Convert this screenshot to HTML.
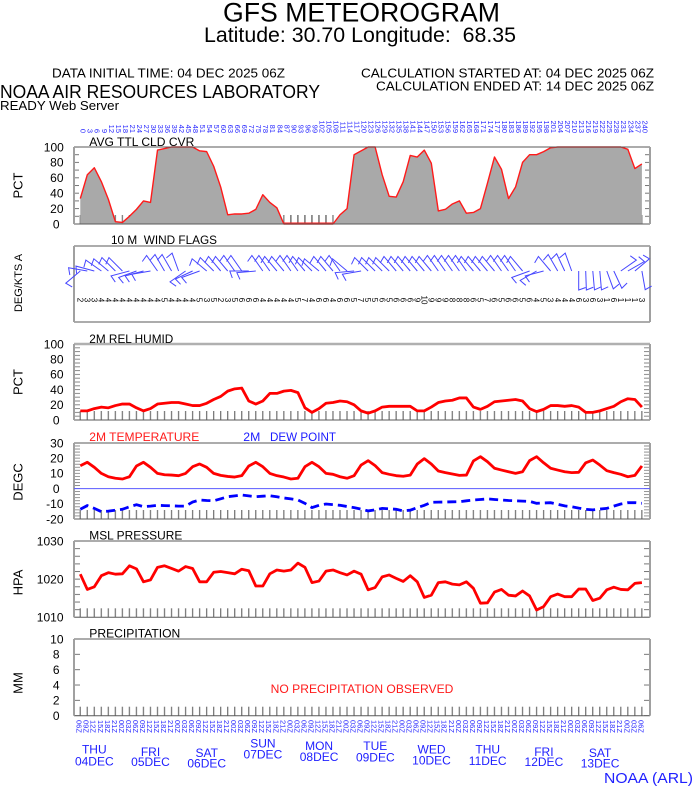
<!DOCTYPE html>
<html><head><meta charset="utf-8"><style>
html,body{margin:0;padding:0;background:#fff;}
svg{display:block;}
text{font-family:"Liberation Sans",Arial,sans-serif;}
</style></head><body>
<svg width="694" height="788" viewBox="0 0 694 788" xmlns="http://www.w3.org/2000/svg">
<defs>
<pattern id="bt" patternUnits="userSpaceOnUse" x="79.6" y="0" width="7.02" height="800"><rect x="0" y="0" width="1.3" height="800" fill="#7a7a7a"/></pattern>
<pattern id="pc" patternUnits="userSpaceOnUse" x="0" y="146.5" width="700" height="7.7"><rect width="700" height="1" fill="#777"/></pattern>
<pattern id="pr" patternUnits="userSpaceOnUse" x="0" y="343.5" width="700" height="3.8"><rect width="700" height="1" fill="#888"/></pattern>
<pattern id="pt" patternUnits="userSpaceOnUse" x="0" y="442.5" width="700" height="3.04"><rect width="700" height="0.9" fill="#888"/></pattern>
<pattern id="pp" patternUnits="userSpaceOnUse" x="0" y="540.5" width="700" height="7.63"><rect width="700" height="1" fill="#777"/></pattern>
<pattern id="pq" patternUnits="userSpaceOnUse" x="0" y="638.5" width="700" height="15.34"><rect width="700" height="1" fill="#777"/></pattern>
<path id="wb" d="M0,0V-19L-7,-16.5" fill="none" stroke="#4646ff" stroke-width="1"/>
</defs>

<!-- Header -->
<text x="223" y="21.5" font-size="27" textLength="277" lengthAdjust="spacingAndGlyphs">GFS METEOROGRAM</text>
<text x="204" y="42" font-size="21" textLength="312" lengthAdjust="spacingAndGlyphs" xml:space="preserve">Latitude: 30.70 Longitude:  68.35</text>
<text x="52" y="77.5" font-size="12.5" textLength="233" lengthAdjust="spacingAndGlyphs">DATA INITIAL TIME: 04 DEC 2025 06Z</text>
<text x="361" y="77.5" font-size="12.5" textLength="293" lengthAdjust="spacingAndGlyphs">CALCULATION STARTED AT: 04 DEC 2025 06Z</text>
<text x="376" y="90.5" font-size="12.5" textLength="278" lengthAdjust="spacingAndGlyphs">CALCULATION ENDED AT: 14 DEC 2025 06Z</text>
<text x="0" y="98" font-size="18" textLength="320" lengthAdjust="spacingAndGlyphs">NOAA AIR RESOURCES LABORATORY</text>
<text x="0" y="110" font-size="12.5" textLength="119" lengthAdjust="spacingAndGlyphs">READY Web Server</text>

<!-- Top hour labels -->
<g transform="rotate(90)" font-size="7.5" fill="#2828ff" text-anchor="end">
<text x="133" y="-80.7">0</text><text x="133" y="-87.7">3</text><text x="133" y="-94.7">6</text><text x="133" y="-101.8">9</text>
<text x="133" y="-108.8">12</text><text x="133" y="-115.8">15</text><text x="133" y="-122.8">18</text><text x="133" y="-129.8">21</text>
<text x="133" y="-136.9">24</text><text x="133" y="-143.9">27</text><text x="133" y="-150.9">30</text><text x="133" y="-157.9">33</text>
<text x="133" y="-164.9">36</text><text x="133" y="-172">39</text><text x="133" y="-179">42</text><text x="133" y="-186">45</text>
<text x="133" y="-193">48</text><text x="133" y="-200">51</text><text x="133" y="-207.1">54</text><text x="133" y="-214.1">57</text>
<text x="133" y="-221.1">60</text><text x="133" y="-228.1">63</text><text x="133" y="-235.1">66</text><text x="133" y="-242.2">69</text>
<text x="133" y="-249.2">72</text><text x="133" y="-256.2">75</text><text x="133" y="-263.2">78</text><text x="133" y="-270.2">81</text>
<text x="133" y="-277.3">84</text><text x="133" y="-284.3">87</text><text x="133" y="-291.3">90</text><text x="133" y="-298.3">93</text>
<text x="133" y="-305.3">96</text><text x="133" y="-312.4">99</text><text x="133" y="-319.4">102</text><text x="133" y="-326.4">105</text>
<text x="133" y="-333.4">108</text><text x="133" y="-340.4">111</text><text x="133" y="-347.5">114</text><text x="133" y="-354.5">117</text>
<text x="133" y="-361.5">120</text><text x="133" y="-368.5">123</text><text x="133" y="-375.5">126</text><text x="133" y="-382.6">129</text>
<text x="133" y="-389.6">132</text><text x="133" y="-396.6">135</text><text x="133" y="-403.6">138</text><text x="133" y="-410.6">141</text>
<text x="133" y="-417.7">144</text><text x="133" y="-424.7">147</text><text x="133" y="-431.7">150</text><text x="133" y="-438.7">153</text>
<text x="133" y="-445.7">156</text><text x="133" y="-452.8">159</text><text x="133" y="-459.8">162</text><text x="133" y="-466.8">165</text>
<text x="133" y="-473.8">168</text><text x="133" y="-480.8">171</text><text x="133" y="-487.9">174</text><text x="133" y="-494.9">177</text>
<text x="133" y="-501.9">180</text><text x="133" y="-508.9">183</text><text x="133" y="-515.9">186</text><text x="133" y="-523">189</text>
<text x="133" y="-530">192</text><text x="133" y="-537">195</text><text x="133" y="-544">198</text><text x="133" y="-551">201</text>
<text x="133" y="-558.1">204</text><text x="133" y="-565.1">207</text><text x="133" y="-572.1">210</text><text x="133" y="-579.1">213</text>
<text x="133" y="-586.1">216</text><text x="133" y="-593.2">219</text><text x="133" y="-600.2">222</text><text x="133" y="-607.2">225</text>
<text x="133" y="-614.2">228</text><text x="133" y="-621.2">231</text><text x="133" y="-628.3">234</text><text x="133" y="-635.3">237</text>
<text x="133" y="-642.3">240</text>
</g>

<!-- Axis titles -->
<g font-size="13" text-anchor="middle">
<text transform="translate(22.7,185.5) rotate(-90)">PCT</text>
<text transform="translate(22,283) rotate(-90)" font-size="11">DEG/KTS A</text>
<text transform="translate(22.7,382) rotate(-90)">PCT</text>
<text transform="translate(22.7,482) rotate(-90)">DEGC</text>
<text transform="translate(22.7,582.5) rotate(-90)">HPA</text>
<text transform="translate(22.7,683) rotate(-90)">MM</text>
</g>

<!-- Tick labels -->
<g font-size="12" text-anchor="end">
<text x="63.8" y="151.3">100</text><text x="63.5" y="166.7">80</text><text x="63.5" y="182.1">60</text><text x="63.5" y="197.5">40</text><text x="63.5" y="212.9">20</text><text x="59.5" y="228.3">0</text>
<text x="63.8" y="348.3">100</text><text x="63.5" y="363.5">80</text><text x="63.5" y="378.7">60</text><text x="63.5" y="393.9">40</text><text x="63.5" y="409.1">20</text><text x="59.5" y="424.3">0</text>
<text x="63.5" y="447.3">30</text><text x="63.5" y="462.5">20</text><text x="63.5" y="477.7">10</text><text x="59.5" y="492.9">0</text><text x="63.5" y="508.1">-10</text><text x="63.5" y="523.3">-20</text>
<text x="63.5" y="545.3">1030</text><text x="63.5" y="583.5">1020</text><text x="63.5" y="621.6">1010</text>
<text x="63.5" y="643.3">10</text><text x="59.5" y="658.6">8</text><text x="59.5" y="674">6</text><text x="59.5" y="689.3">4</text><text x="59.5" y="704.7">2</text><text x="59.5" y="720">0</text>
</g>

<!-- Bottom ticks (drawn under fills) -->
<rect x="76" y="215" width="572" height="9" fill="url(#bt)"/>
<rect x="76" y="411" width="572" height="9" fill="url(#bt)"/>
<rect x="76" y="510" width="572" height="9" fill="url(#bt)"/>
<rect x="76" y="608.3" width="572" height="9" fill="url(#bt)"/>
<rect x="76" y="706.7" width="572" height="9" fill="url(#bt)"/>

<!-- Cloud cover -->
<polygon transform="translate(80.3,224) scale(7.02,-0.77)" fill="#a9a9a9" points="0,0 0,33 1,64 2,73 3,55 4,32 5,3 6,2 7,10 8,19 9,30 10,28 11,96 12,98 13,100 14,100 15,100 16,100 17,95 18,94 19,75 20,48 21,12 22,13 23,13 24,14 25,19 26,38 27,28 28,21 29,0 30,0 31,0 32,0 33,0 34,0 35,0 36,0 37,12 38,20 39,90 40,95 41,100 42,100 43,64 44,36 45,35 46,55 47,89 48,87 49,96 50,79 51,17 52,19 53,26 54,30 55,14 56,15 57,20 58,53 59,87 60,71 61,33 62,48 63,80 64,90 65,90 66,94 67,99 68,100 69,100 70,100 71,100 72,100 73,100 74,100 75,100 76,100 77,100 78,97 79,72 80,78 80,0"/>
<rect x="289" y="215" width="40" height="9" fill="url(#bt)"/>
<polyline transform="translate(80.3,224) scale(7.02,-0.77)" vector-effect="non-scaling-stroke" fill="none" stroke="#ff1a1a" stroke-width="1.4" stroke-linejoin="round" points="0,33 1,64 2,73 3,55 4,32 5,3 6,2 7,10 8,19 9,30 10,28 11,96 12,98 13,100 14,100 15,100 16,100 17,95 18,94 19,75 20,48 21,12 22,13 23,13 24,14 25,19 26,38 27,28 28,21 29,0 30,0 31,0 32,0 33,0 34,0 35,0 36,0 37,12 38,20 39,90 40,95 41,100 42,100 43,64 44,36 45,35 46,55 47,89 48,87 49,96 50,79 51,17 52,19 53,26 54,30 55,14 56,15 57,20 58,53 59,87 60,71 61,33 62,48 63,80 64,90 65,90 66,94 67,99 68,100 69,100 70,100 71,100 72,100 73,100 74,100 75,100 76,100 77,100 78,97 79,72 80,78"/>
<line x1="284" y1="223.5" x2="333" y2="223.5" stroke="#ff1a1a" stroke-width="2"/>

<!-- Side tick marks -->
<rect x="74" y="147" width="5" height="77" fill="url(#pc)"/><rect x="645" y="147" width="5" height="77" fill="url(#pc)"/>
<rect x="74" y="344" width="6" height="76" fill="url(#pr)"/><rect x="644" y="344" width="6" height="76" fill="url(#pr)"/>
<rect x="74" y="443" width="6" height="76" fill="url(#pt)"/><rect x="644" y="443" width="6" height="76" fill="url(#pt)"/>
<rect x="74" y="541" width="6" height="76.3" fill="url(#pp)"/><rect x="644" y="541" width="6" height="76.3" fill="url(#pp)"/>
<rect x="74" y="639" width="6" height="76.7" fill="url(#pq)"/><rect x="644" y="639" width="6" height="76.7" fill="url(#pq)"/>

<!-- Frames -->
<g fill="none">
<g stroke="#5a5a5a" stroke-width="1">
<line x1="74" y1="147" x2="650" y2="147"/><line x1="74" y1="224" x2="650" y2="224"/>
<line x1="74" y1="246" x2="650" y2="246"/><line x1="74" y1="322" x2="650" y2="322"/>
<line x1="74" y1="420" x2="650" y2="420"/>
<line x1="74" y1="443" x2="650" y2="443"/><line x1="74" y1="519" x2="650" y2="519"/>
<line x1="74" y1="541" x2="650" y2="541"/><line x1="74" y1="617.3" x2="650" y2="617.3"/>
<line x1="74" y1="639" x2="650" y2="639"/><line x1="74" y1="715.7" x2="650" y2="715.7"/>
</g>
<line x1="74" y1="344" x2="650" y2="344" stroke="#b0b0b0" stroke-width="2.5"/>
<g stroke="#a0a0a0" stroke-width="2">
<line x1="74" y1="147" x2="74" y2="224"/><line x1="650" y1="147" x2="650" y2="224"/>
<line x1="74" y1="246" x2="74" y2="322"/><line x1="650" y1="246" x2="650" y2="322"/>
<line x1="74" y1="344" x2="74" y2="420"/><line x1="650" y1="344" x2="650" y2="420"/>
<line x1="74" y1="443" x2="74" y2="519"/><line x1="650" y1="443" x2="650" y2="519"/>
<line x1="74" y1="541" x2="74" y2="617.3"/><line x1="650" y1="541" x2="650" y2="617.3"/>
<line x1="74" y1="639" x2="74" y2="715.7"/><line x1="650" y1="639" x2="650" y2="715.7"/>
</g>
</g>

<!-- Panel titles -->
<g font-size="12">
<text x="89.3" y="146" textLength="105" lengthAdjust="spacingAndGlyphs">AVG TTL CLD CVR</text>
<text x="111" y="244" textLength="106" lengthAdjust="spacingAndGlyphs" xml:space="preserve">10 M  WIND FLAGS</text>
<text x="89.3" y="343" textLength="84" lengthAdjust="spacingAndGlyphs">2M REL HUMID</text>
<text x="89.3" y="441" fill="#ff1a1a" textLength="110" lengthAdjust="spacingAndGlyphs">2M TEMPERATURE</text>
<text x="243.3" y="441" fill="#1a1aff" textLength="17" lengthAdjust="spacingAndGlyphs">2M</text>
<text x="270" y="441" fill="#1a1aff" textLength="66" lengthAdjust="spacingAndGlyphs">DEW POINT</text>
<text x="89.3" y="539.3" textLength="93" lengthAdjust="spacingAndGlyphs">MSL PRESSURE</text>
<text x="89.3" y="637.7" textLength="91" lengthAdjust="spacingAndGlyphs">PRECIPITATION</text>
<text x="270.7" y="693" fill="#ff1a1a" textLength="182.7" lengthAdjust="spacingAndGlyphs">NO PRECIPITATION OBSERVED</text>
</g>

<!-- Wind barbs -->
<g>
<use href="#wb" transform="translate(80.3,271) rotate(-130)"/><use href="#wb" transform="translate(87.3,271) rotate(-80)"/><use href="#wb" transform="translate(94.3,271) rotate(-75)"/><use href="#wb" transform="translate(101.4,271) rotate(-55)"/>
<use href="#wb" transform="translate(108.4,271) rotate(-50)"/><use href="#wb" transform="translate(115.4,271) rotate(-45)"/><use href="#wb" transform="translate(122.4,271) rotate(-45)"/><use href="#wb" transform="translate(129.4,271) rotate(-105)"/>
<use href="#wb" transform="translate(136.5,271) rotate(-110)"/><use href="#wb" transform="translate(143.5,271) rotate(-105)"/><use href="#wb" transform="translate(150.5,271) rotate(-100)"/><use href="#wb" transform="translate(157.5,271) rotate(-35)"/>
<use href="#wb" transform="translate(164.5,271) rotate(-30)"/><use href="#wb" transform="translate(171.6,271) rotate(-30)"/><use href="#wb" transform="translate(178.6,271) rotate(-20)"/><use href="#wb" transform="translate(185.6,271) rotate(-125)"/>
<use href="#wb" transform="translate(192.6,271) rotate(-115)"/><use href="#wb" transform="translate(199.6,271) rotate(-110)"/><use href="#wb" transform="translate(206.7,271) rotate(-50)"/><use href="#wb" transform="translate(213.7,271) rotate(-45)"/>
<use href="#wb" transform="translate(220.7,271) rotate(-40)"/><use href="#wb" transform="translate(227.7,271) rotate(-40)"/><use href="#wb" transform="translate(234.7,271) rotate(-35)"/><use href="#wb" transform="translate(241.8,271) rotate(-35)"/>
<use href="#wb" transform="translate(248.8,271) rotate(-90)"/><use href="#wb" transform="translate(255.8,271) rotate(-95)"/><use href="#wb" transform="translate(262.8,271) rotate(-35)"/><use href="#wb" transform="translate(269.8,271) rotate(-35)"/>
<use href="#wb" transform="translate(276.9,271) rotate(-40)"/><use href="#wb" transform="translate(283.9,271) rotate(-40)"/><use href="#wb" transform="translate(290.9,271) rotate(-35)"/><use href="#wb" transform="translate(297.9,271) rotate(-35)"/>
<use href="#wb" transform="translate(304.9,271) rotate(-40)"/><use href="#wb" transform="translate(312,271) rotate(-45)"/><use href="#wb" transform="translate(319,271) rotate(-50)"/><use href="#wb" transform="translate(326,271) rotate(-40)"/>
<use href="#wb" transform="translate(333,271) rotate(-40)"/><use href="#wb" transform="translate(340,271) rotate(-35)"/><use href="#wb" transform="translate(347.1,271) rotate(-50)"/><use href="#wb" transform="translate(354.1,271) rotate(-95)"/>
<use href="#wb" transform="translate(361.1,271) rotate(-100)"/><use href="#wb" transform="translate(368.1,271) rotate(-45)"/><use href="#wb" transform="translate(375.1,271) rotate(-45)"/><use href="#wb" transform="translate(382.2,271) rotate(-45)"/>
<use href="#wb" transform="translate(389.2,271) rotate(-45)"/><use href="#wb" transform="translate(396.2,271) rotate(-40)"/><use href="#wb" transform="translate(403.2,271) rotate(-40)"/><use href="#wb" transform="translate(410.2,271) rotate(-40)"/>
<use href="#wb" transform="translate(417.3,271) rotate(-40)"/><use href="#wb" transform="translate(424.3,271) rotate(-40)"/><use href="#wb" transform="translate(431.3,271) rotate(-40)"/><use href="#wb" transform="translate(438.3,271) rotate(-35)"/>
<use href="#wb" transform="translate(445.3,271) rotate(-35)"/><use href="#wb" transform="translate(452.4,271) rotate(-35)"/><use href="#wb" transform="translate(459.4,271) rotate(-35)"/><use href="#wb" transform="translate(466.4,271) rotate(-35)"/>
<use href="#wb" transform="translate(473.4,271) rotate(-40)"/><use href="#wb" transform="translate(480.4,271) rotate(-40)"/><use href="#wb" transform="translate(487.5,271) rotate(-40)"/><use href="#wb" transform="translate(494.5,271) rotate(-40)"/>
<use href="#wb" transform="translate(501.5,271) rotate(-35)"/><use href="#wb" transform="translate(508.5,271) rotate(-35)"/><use href="#wb" transform="translate(515.5,271) rotate(-35)"/><use href="#wb" transform="translate(522.6,271) rotate(-40)"/>
<use href="#wb" transform="translate(529.6,271) rotate(-110)"/><use href="#wb" transform="translate(536.6,271) rotate(-120)"/><use href="#wb" transform="translate(543.6,271) rotate(-105)"/><use href="#wb" transform="translate(550.6,271) rotate(-40)"/>
<use href="#wb" transform="translate(557.7,271) rotate(-30)"/><use href="#wb" transform="translate(564.7,271) rotate(-25)"/><use href="#wb" transform="translate(571.7,271) rotate(-20)"/><use href="#wb" transform="translate(578.7,271) rotate(180)"/>
<use href="#wb" transform="translate(585.7,271) rotate(178)"/><use href="#wb" transform="translate(592.8,271) rotate(175)"/><use href="#wb" transform="translate(599.8,271) rotate(175)"/><use href="#wb" transform="translate(606.8,271) rotate(160)"/>
<use href="#wb" transform="translate(613.8,271) rotate(155)"/><use href="#wb" transform="translate(620.8,271) rotate(55)"/><use href="#wb" transform="translate(627.9,271) rotate(60)"/><use href="#wb" transform="translate(634.9,271) rotate(50)"/>
<use href="#wb" transform="translate(641.9,271) rotate(170)"/>
</g>

<!-- Wind speed numbers -->
<g transform="translate(-3.3,0) rotate(90)" font-size="8" text-anchor="middle" fill="#000">
<text x="300" y="-80.7">2</text><text x="300" y="-87.7">3</text><text x="300" y="-94.7">3</text><text x="300" y="-101.8">4</text>
<text x="300" y="-108.8">4</text><text x="300" y="-115.8">4</text><text x="300" y="-122.8">4</text><text x="300" y="-129.8">4</text>
<text x="300" y="-136.9">4</text><text x="300" y="-143.9">4</text><text x="300" y="-150.9">4</text><text x="300" y="-157.9">4</text>
<text x="300" y="-164.9">5</text><text x="300" y="-172">4</text><text x="300" y="-179">4</text><text x="300" y="-186">4</text>
<text x="300" y="-193">4</text><text x="300" y="-200">5</text><text x="300" y="-207.1">3</text><text x="300" y="-214.1">5</text>
<text x="300" y="-221.1">2</text><text x="300" y="-228.1">3</text><text x="300" y="-235.1">5</text><text x="300" y="-242.2">6</text>
<text x="300" y="-249.2">6</text><text x="300" y="-256.2">6</text><text x="300" y="-263.2">4</text><text x="300" y="-270.2">4</text>
<text x="300" y="-277.3">4</text><text x="300" y="-284.3">4</text><text x="300" y="-291.3">4</text><text x="300" y="-298.3">5</text>
<text x="300" y="-305.3">7</text><text x="300" y="-312.4">4</text><text x="300" y="-319.4">6</text><text x="300" y="-326.4">6</text>
<text x="300" y="-333.4">4</text><text x="300" y="-340.4">6</text><text x="300" y="-347.5">6</text><text x="300" y="-354.5">5</text>
<text x="300" y="-361.5">7</text><text x="300" y="-368.5">5</text><text x="300" y="-375.5">5</text><text x="300" y="-382.6">6</text>
<text x="300" y="-389.6">5</text><text x="300" y="-396.6">6</text><text x="300" y="-403.6">6</text><text x="300" y="-410.6">6</text>
<text x="300" y="-417.7">9</text><text x="300" y="-424.7">10</text><text x="300" y="-431.7">9</text><text x="300" y="-438.7">9</text>
<text x="300" y="-445.7">9</text><text x="300" y="-452.8">8</text><text x="300" y="-459.8">8</text><text x="300" y="-466.8">8</text>
<text x="300" y="-473.8">6</text><text x="300" y="-480.8">5</text><text x="300" y="-487.9">7</text><text x="300" y="-494.9">6</text>
<text x="300" y="-501.9">5</text><text x="300" y="-508.9">6</text><text x="300" y="-515.9">6</text><text x="300" y="-523">5</text>
<text x="300" y="-530">6</text><text x="300" y="-537">4</text><text x="300" y="-544">5</text><text x="300" y="-551">3</text>
<text x="300" y="-558.1">4</text><text x="300" y="-565.1">4</text><text x="300" y="-572.1">4</text><text x="300" y="-579.1">6</text>
<text x="300" y="-586.1">3</text><text x="300" y="-593.2">6</text><text x="300" y="-600.2">3</text><text x="300" y="-607.2">1</text>
<text x="300" y="-614.2">6</text><text x="300" y="-621.2">1</text><text x="300" y="-628.3">1</text><text x="300" y="-635.3">1</text>
<text x="300" y="-642.3">3</text>
</g>

<!-- RH -->
<polyline transform="translate(80.3,420) scale(7.02,-0.76)" vector-effect="non-scaling-stroke" fill="none" stroke="#ff0000" stroke-width="2.8" stroke-linejoin="round" points="0,12 1,12 2,15 3,17 4,16 5,19 6,21 7,21 8,16 9,12 10,15 11,21 12,22 13,23 14,23 15,21 16,19 17,19 18,22 19,27 20,31 21,38 22,41 23,42 24,25 25,21 26,25 27,35 28,35 29,38 30,39 31,36 32,16 33,10 34,15 35,22 36,23 37,25 38,24 39,20 40,12 41,9 42,12 43,17 44,18 45,18 46,18 47,18 48,12 49,12 50,17 51,23 52,25 53,26 54,29 55,29 56,17 57,14 58,18 59,24 60,25 61,26 62,27 63,25 64,15 65,11 66,14 67,19 68,19 69,18 70,19 71,17 72,10 73,10 74,12 75,15 76,18 77,24 78,28 79,27 80,17"/>

<!-- Temperature / dew point -->
<line x1="74" y1="488.6" x2="650" y2="488.6" stroke="#5a5aff" stroke-width="1"/>
<polyline transform="translate(80.3,488.6) scale(7.02,-1.52)" vector-effect="non-scaling-stroke" fill="none" stroke="#ff0000" stroke-width="2.8" stroke-linejoin="round" points="0,15 1,17.3 2,14 3,10 4,7.8 5,6.8 6,6.3 7,7.8 8,14.9 9,17.3 10,14 11,10 12,9.1 13,8.9 14,8.5 15,10 16,14.4 17,16.2 18,14 19,10 20,8.7 21,8 22,7.6 23,8.5 24,14.9 25,17.3 26,14.4 27,10 28,8.5 29,7.6 30,6.3 31,6.8 32,14.4 33,17.3 34,14.4 35,10 36,9.4 37,7.8 38,6.8 39,8.5 40,15.5 41,18.4 42,15.1 43,10.5 44,9.4 45,8.5 46,8.1 47,8.9 48,16.2 49,19.7 50,16.2 51,11.6 52,10.5 53,9.6 54,8.7 55,8.9 56,18.2 57,21 58,17.7 59,13.4 60,12.2 61,11.1 62,10 63,11.1 64,18.4 65,21 66,17 67,13.4 68,12.2 69,11.1 70,10.5 71,10.7 72,17 73,18.8 74,15.5 75,11.8 76,10.5 77,9.4 78,7.8 79,8.7 80,14.9"/>
<polyline fill="none" stroke="#0000ff" stroke-width="2.8" stroke-dasharray="9,5" points="80.3,509.3 87.3,505.6 94.3,508.4 101.4,511.7 108.4,511.1 115.4,510.2 122.4,509.3 129.4,506.8 136.5,504.7 143.5,506.7 150.5,506.1 157.5,505.3 164.5,505.6 171.6,505.8 178.6,506.1 185.6,506.1 192.6,502 199.6,500 206.7,500.5 213.7,500.8 220.7,498.8 227.7,496.7 234.7,495.9 241.8,495 248.8,495.9 255.8,496.7 262.8,496.2 269.8,495.7 276.9,496.8 283.9,498 290.9,498.9 297.9,500 304.9,503.3 312,507.6 319,505.3 326,504 333,504.6 340,505.3 347.1,506.5 354.1,507.6 361.1,509.1 368.1,510.9 375.1,509.9 382.2,508.4 389.2,508.8 396.2,509.3 403.2,510.9 410.2,510.2 417.3,507.6 424.3,505.3 431.3,502.3 438.3,502.1 445.3,502 452.4,501.8 459.4,501.7 466.4,500.8 473.4,500 480.4,499.5 487.5,498.9 494.5,499.5 501.5,500 508.5,500.5 515.5,500.8 522.6,501.1 529.6,501.4 536.6,503.3 543.6,503 550.6,502.7 557.7,504.3 564.7,505.9 571.7,506.7 578.7,508.1 585.7,509.3 592.8,509.9 599.8,509.1 606.8,508.4 613.8,506.1 620.8,504 627.9,502.7 634.9,502.6 641.9,503.3"/>

<!-- Pressure -->
<polyline transform="translate(80.3,617.3) scale(7.02,-3.815)" vector-effect="non-scaling-stroke" fill="none" stroke="#ff0000" stroke-width="2.8" stroke-linejoin="round" points="0,11.3 1,7.3 2,8 3,10.9 4,11.7 5,11.3 6,11.4 7,13.5 8,12.7 9,9.3 10,9.8 11,13.1 12,13.5 13,12.8 14,12.1 15,13.3 16,12.8 17,9.3 18,9.3 19,11.8 20,12 21,11.7 22,11.4 23,12.6 24,12.2 25,8.2 26,8.2 27,11.4 28,12.4 29,12.1 30,12.4 31,14.2 32,13.1 33,9.1 34,9.5 35,12.1 36,12.4 37,11.7 38,11.1 39,12.1 40,11.3 41,7.2 42,7.8 43,10.6 44,11.1 45,10.2 46,9.4 47,10.9 48,9.3 49,5.2 50,5.8 51,9.1 52,9.3 53,8.7 54,8.5 55,9.3 56,7.6 57,3.7 58,3.8 59,6.6 60,7.3 61,5.8 62,5.6 63,6.9 64,5.6 65,1.9 66,2.8 67,5.4 68,6.1 69,5.4 70,5.4 71,7.4 72,7.4 73,4.4 74,5 75,7.2 76,7.9 77,7.3 78,7.2 79,8.9 80,9.1"/>

<!-- Bottom time labels -->
<g transform="translate(-4,0) rotate(90)" font-size="7.5" fill="#2828ff">
<text x="720" y="-80.7">06Z</text><text x="720" y="-87.7">09Z</text><text x="720" y="-94.7">12Z</text><text x="720" y="-101.8">15Z</text>
<text x="720" y="-108.8">18Z</text><text x="720" y="-115.8">21Z</text><text x="720" y="-122.8">00Z</text><text x="720" y="-129.8">03Z</text>
<text x="720" y="-136.9">06Z</text><text x="720" y="-143.9">09Z</text><text x="720" y="-150.9">12Z</text><text x="720" y="-157.9">15Z</text>
<text x="720" y="-164.9">18Z</text><text x="720" y="-172">21Z</text><text x="720" y="-179">00Z</text><text x="720" y="-186">03Z</text>
<text x="720" y="-193">06Z</text><text x="720" y="-200">09Z</text><text x="720" y="-207.1">12Z</text><text x="720" y="-214.1">15Z</text>
<text x="720" y="-221.1">18Z</text><text x="720" y="-228.1">21Z</text><text x="720" y="-235.1">00Z</text><text x="720" y="-242.2">03Z</text>
<text x="720" y="-249.2">06Z</text><text x="720" y="-256.2">09Z</text><text x="720" y="-263.2">12Z</text><text x="720" y="-270.2">15Z</text>
<text x="720" y="-277.3">18Z</text><text x="720" y="-284.3">21Z</text><text x="720" y="-291.3">00Z</text><text x="720" y="-298.3">03Z</text>
<text x="720" y="-305.3">06Z</text><text x="720" y="-312.4">09Z</text><text x="720" y="-319.4">12Z</text><text x="720" y="-326.4">15Z</text>
<text x="720" y="-333.4">18Z</text><text x="720" y="-340.4">21Z</text><text x="720" y="-347.5">00Z</text><text x="720" y="-354.5">03Z</text>
<text x="720" y="-361.5">06Z</text><text x="720" y="-368.5">09Z</text><text x="720" y="-375.5">12Z</text><text x="720" y="-382.6">15Z</text>
<text x="720" y="-389.6">18Z</text><text x="720" y="-396.6">21Z</text><text x="720" y="-403.6">00Z</text><text x="720" y="-410.6">03Z</text>
<text x="720" y="-417.7">06Z</text><text x="720" y="-424.7">09Z</text><text x="720" y="-431.7">12Z</text><text x="720" y="-438.7">15Z</text>
<text x="720" y="-445.7">18Z</text><text x="720" y="-452.8">21Z</text><text x="720" y="-459.8">00Z</text><text x="720" y="-466.8">03Z</text>
<text x="720" y="-473.8">06Z</text><text x="720" y="-480.8">09Z</text><text x="720" y="-487.9">12Z</text><text x="720" y="-494.9">15Z</text>
<text x="720" y="-501.9">18Z</text><text x="720" y="-508.9">21Z</text><text x="720" y="-515.9">00Z</text><text x="720" y="-523">03Z</text>
<text x="720" y="-530">06Z</text><text x="720" y="-537">09Z</text><text x="720" y="-544">12Z</text><text x="720" y="-551">15Z</text>
<text x="720" y="-558.1">18Z</text><text x="720" y="-565.1">21Z</text><text x="720" y="-572.1">00Z</text><text x="720" y="-579.1">03Z</text>
<text x="720" y="-586.1">06Z</text><text x="720" y="-593.2">09Z</text><text x="720" y="-600.2">12Z</text><text x="720" y="-607.2">15Z</text>
<text x="720" y="-614.2">18Z</text><text x="720" y="-621.2">21Z</text><text x="720" y="-628.3">00Z</text><text x="720" y="-635.3">03Z</text>
<text x="720" y="-642.3">06Z</text>
</g>

<!-- Day labels -->
<g font-size="12" fill="#2020ff" text-anchor="middle">
<text x="94.3" y="753.6">THU</text><text x="94.3" y="765.3">04DEC</text>
<text x="150.5" y="756">FRI</text><text x="150.5" y="766">05DEC</text>
<text x="206.7" y="757">SAT</text><text x="206.7" y="767.6">06DEC</text>
<text x="262.9" y="747.6">SUN</text><text x="262.9" y="758.6">07DEC</text>
<text x="319.1" y="750">MON</text><text x="319.1" y="761">08DEC</text>
<text x="375.3" y="750">TUE</text><text x="375.3" y="761.6">09DEC</text>
<text x="431.5" y="753.3">WED</text><text x="431.5" y="764.3">10DEC</text>
<text x="487.7" y="753.3">THU</text><text x="487.7" y="765">11DEC</text>
<text x="543.9" y="756">FRI</text><text x="543.9" y="766">12DEC</text>
<text x="600.1" y="757">SAT</text><text x="600.1" y="767.6">13DEC</text>
</g>
<text x="604" y="783" font-size="15" fill="#2020ff" textLength="89" lengthAdjust="spacingAndGlyphs">NOAA (ARL)</text>
</svg>
</body></html>
